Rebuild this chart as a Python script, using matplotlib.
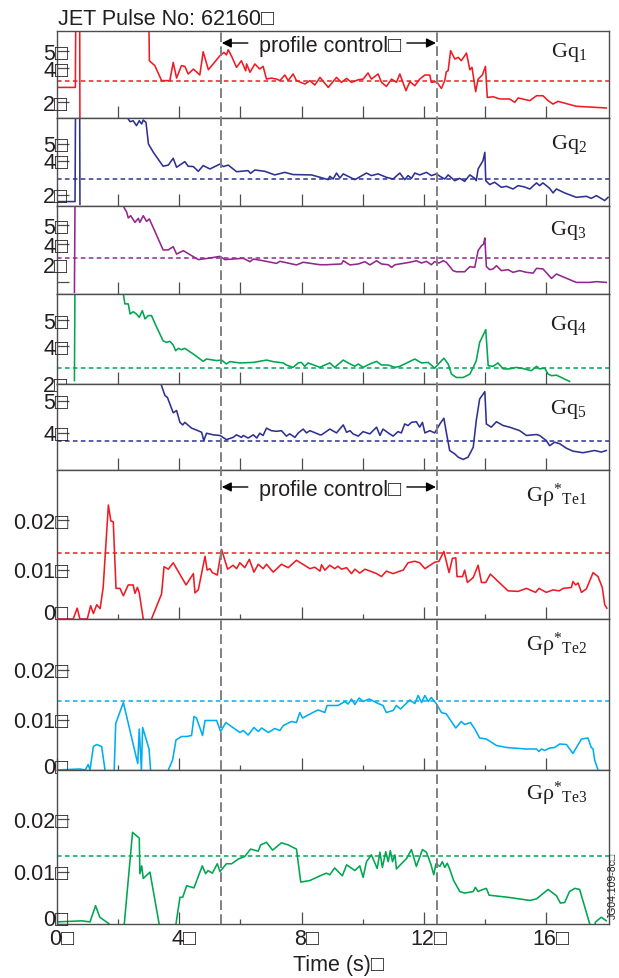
import numpy as np
import matplotlib
matplotlib.use('Agg')
import matplotlib.pyplot as plt
from matplotlib.lines import Line2D
from matplotlib.transforms import blended_transform_factory

plt.rcParams['font.family'] = ['Liberation Sans', 'DejaVu Sans']
plt.rcParams['mathtext.default'] = 'regular'

nan = np.nan
BOX = '\u25a1'

# (time [s], value) samples for each trace; nan pairs break the line
q1 = [(0.0, 2.86), (0.60, 2.86), (0.62, 9), (0.74, 9), (0.75, 0), (nan, nan),
      (2.99, 9), (3.02, 4.43), (3.20, 4.14), (3.42, 3.26), (3.69, 3.26), (3.80, 4.33),
      (3.91, 3.41), (4.07, 4.14), (4.18, 4.10), (4.29, 3.65), (4.46, 3.94), (4.67, 3.59),
      (4.78, 4.96), (4.95, 3.90), (5.33, 4.73), (5.46, 4.92), (5.54, 4.77), (5.60, 5.08),
      (5.71, 4.69), (5.87, 4.04), (6.03, 4.43), (6.17, 3.84), (6.20, 4.24), (6.31, 3.75),
      (6.47, 4.24), (6.63, 3.94), (6.74, 4.10), (6.85, 3.35), (7.01, 3.41), (7.18, 3.35),
      (7.29, 3.26), (7.45, 3.59), (7.56, 3.26), (7.72, 3.65), (7.83, 3.26), (8.11, 3.06),
      (8.27, 3.26), (8.43, 3.00), (8.60, 3.45), (8.87, 2.86), (9.14, 3.45), (9.30, 3.16),
      (9.47, 3.39), (9.63, 3.16), (9.85, 3.31), (10.01, 3.35), (10.17, 3.71), (10.28, 3.35),
      (10.50, 3.65), (10.61, 3.16), (10.77, 2.92), (10.94, 3.35), (11.10, 3.16), (11.21, 3.65),
      (11.41, 2.67), (11.54, 3.20), (11.70, 2.96), (11.86, 3.35), (12.03, 3.59), (12.19, 3.59),
      (12.24, 3.16), (12.41, 3.20), (12.57, 2.80), (12.68, 3.26), (12.73, 3.78), (12.79, 3.84),
      (12.87, 5.02), (13.01, 4.53), (13.12, 4.63), (13.22, 4.43), (13.39, 4.88), (13.50, 3.90),
      (13.57, 4.04), (13.69, 2.61), (13.77, 3.35), (13.91, 3.59), (14.01, 4.10), (14.07, 2.27),
      (14.26, 2.31), (14.48, 2.18), (14.80, 2.18), (14.97, 1.98), (15.08, 2.24), (15.46, 2.08),
      (15.68, 2.37), (15.89, 2.37), (16.06, 2.08), (16.22, 1.88), (16.38, 2.04), (16.98, 1.75),
      (17.96, 1.65)]

q2 = [(0.0, 1.61), (0.59, 1.61), (0.61, 9), (0.74, 9), (0.75, 1.45), (nan, nan),
      (2.30, 9), (2.33, 6.47), (2.39, 6.31), (2.49, 6.37), (2.60, 6.08), (2.69, 6.37),
      (2.77, 6.18), (2.82, 6.41), (2.91, 6.27), (2.99, 5.00), (3.15, 4.51), (3.47, 3.69),
      (3.64, 3.76), (3.80, 4.16), (3.91, 3.63), (4.18, 3.96), (4.29, 3.69), (4.46, 3.67),
      (4.62, 3.39), (4.78, 3.73), (5.00, 3.53), (5.33, 3.82), (5.44, 3.67), (5.60, 3.76),
      (5.87, 3.37), (6.25, 3.43), (6.33, 3.27), (6.47, 3.47), (6.80, 3.39), (7.12, 3.18),
      (7.45, 3.33), (7.72, 3.20), (8.32, 3.18), (8.60, 3.04), (8.87, 2.90), (8.92, 3.10),
      (9.03, 2.94), (9.14, 3.29), (9.25, 3.00), (9.36, 3.24), (9.74, 2.90), (10.12, 3.29),
      (10.28, 3.14), (10.50, 3.24), (10.77, 3.04), (10.99, 2.94), (11.21, 3.29), (11.37, 2.90),
      (11.48, 3.14), (11.59, 2.98), (11.70, 3.29), (11.86, 3.18), (12.08, 3.33), (12.24, 3.14),
      (12.41, 3.24), (12.52, 3.10), (12.68, 2.94), (12.79, 3.18), (13.01, 2.84), (13.17, 2.98),
      (13.33, 2.80), (13.50, 3.18), (13.66, 2.98), (13.71, 2.84), (13.77, 3.53), (13.93, 4.02),
      (13.99, 4.51), (14.02, 2.84), (14.15, 2.61), (14.31, 2.75), (14.53, 2.45), (14.70, 2.51),
      (14.91, 2.35), (15.08, 2.55), (15.29, 2.47), (15.46, 2.35), (15.68, 2.71), (15.78, 2.55),
      (15.89, 2.71), (16.11, 2.39), (16.22, 2.12), (16.33, 2.35), (16.60, 2.12), (16.98, 1.86),
      (17.31, 1.92), (17.47, 1.80), (17.64, 1.96), (17.91, 1.67), (18.02, 1.86)]

q3 = [(0.57, 1.46), (0.60, 9), (nan, nan),
      (2.16, 9), (2.19, 5.93), (2.28, 5.67), (2.33, 5.37), (2.41, 5.49), (2.55, 5.14),
      (2.66, 5.35), (2.71, 5.14), (2.82, 5.49), (2.93, 5.19), (3.02, 5.32), (3.47, 3.69),
      (3.64, 3.69), (3.80, 3.86), (3.91, 3.47), (4.13, 3.65), (4.40, 3.39), (4.62, 3.18),
      (4.95, 3.25), (5.33, 3.35), (5.49, 3.18), (5.76, 3.21), (6.09, 3.25), (6.31, 3.07),
      (6.42, 3.21), (6.74, 3.12), (7.18, 2.98), (7.29, 3.09), (7.83, 2.90), (8.05, 3.04),
      (8.60, 2.91), (8.81, 2.91), (9.30, 2.95), (9.36, 3.12), (9.58, 2.90), (9.85, 2.95),
      (10.07, 3.07), (10.23, 2.90), (10.45, 3.12), (10.61, 2.95), (10.83, 2.91), (10.94, 2.77),
      (11.05, 2.91), (11.54, 3.04), (11.75, 3.12), (11.92, 3.00), (12.08, 3.09), (12.24, 2.91),
      (12.35, 3.07), (12.49, 3.00), (12.63, 3.12), (12.73, 3.04), (12.95, 2.60), (13.06, 2.54),
      (13.33, 2.54), (13.50, 2.81), (13.66, 2.77), (13.77, 3.65), (13.88, 3.91), (13.95, 4.00),
      (13.99, 4.32), (14.04, 2.81), (14.15, 2.65), (14.26, 2.69), (14.37, 2.86), (14.53, 2.60),
      (14.75, 2.65), (14.91, 2.51), (15.13, 2.60), (15.35, 2.51), (15.57, 2.47), (15.68, 2.72),
      (15.89, 2.69), (16.17, 2.19), (16.33, 2.42), (16.98, 1.98), (17.42, 1.98), (17.64, 2.02),
      (17.96, 1.98)]

q4 = [(0.57, 2.67), (0.60, 9), (nan, nan),
      (2.15, 9), (2.17, 6.00), (2.22, 5.62), (2.33, 5.62), (2.39, 5.23), (2.49, 5.32),
      (2.60, 5.23), (2.69, 5.10), (2.79, 5.36), (2.88, 5.04), (2.98, 5.17), (3.09, 5.17),
      (3.26, 4.72), (3.47, 4.20), (3.58, 4.14), (3.69, 4.18), (3.80, 4.04), (3.88, 3.82),
      (3.97, 3.91), (4.07, 3.86), (4.18, 3.91), (4.46, 3.69), (4.78, 3.41), (4.89, 3.50),
      (5.22, 3.44), (5.38, 3.46), (5.54, 3.31), (5.65, 3.40), (5.98, 3.35), (6.42, 3.37),
      (6.85, 3.46), (7.07, 3.40), (7.40, 3.35), (7.50, 3.27), (7.72, 3.18), (7.89, 3.35),
      (7.99, 3.37), (8.10, 3.22), (8.21, 3.35), (8.60, 3.18), (8.70, 3.24), (8.92, 3.35),
      (9.08, 3.18), (9.36, 3.46), (9.52, 3.35), (9.74, 3.22), (9.85, 3.31), (10.01, 3.18),
      (10.23, 3.31), (10.45, 3.41), (10.61, 3.27), (10.83, 3.27), (11.05, 3.18), (11.21, 3.22),
      (11.70, 3.50), (11.92, 3.35), (12.14, 3.37), (12.35, 3.15), (12.52, 3.37), (12.65, 3.53),
      (12.79, 3.31), (12.90, 2.92), (13.06, 2.79), (13.28, 2.79), (13.50, 2.92), (13.61, 3.18),
      (13.71, 3.44), (13.82, 4.14), (14.02, 4.63), (14.10, 3.24), (14.26, 3.22), (14.42, 3.35),
      (14.59, 3.12), (14.80, 3.12), (15.02, 3.18), (15.29, 3.12), (15.51, 3.05), (15.68, 3.22),
      (15.78, 3.12), (15.95, 3.15), (16.06, 2.92), (16.17, 2.86), (16.33, 2.88), (16.76, 2.64)]

q5 = [(3.35, 7.0), (3.40, 5.53), (3.53, 5.17), (3.61, 5.11), (3.80, 4.63), (3.91, 4.70),
      (4.02, 4.33), (4.11, 4.25), (4.18, 4.33), (4.40, 4.15), (4.56, 4.09), (4.73, 4.02),
      (4.80, 3.76), (4.89, 3.99), (5.11, 3.94), (5.33, 3.92), (5.54, 3.79), (5.76, 3.86),
      (5.87, 3.94), (6.03, 3.86), (6.09, 3.92), (6.25, 3.84), (6.42, 3.94), (6.53, 3.84),
      (6.63, 3.99), (6.74, 3.92), (6.85, 4.15), (7.01, 4.07), (7.18, 4.05), (7.34, 4.07),
      (7.50, 3.90), (7.61, 3.97), (7.78, 3.86), (7.89, 4.00), (8.05, 4.12), (8.16, 4.00),
      (8.27, 4.07), (8.60, 3.94), (8.65, 3.94), (8.92, 4.12), (9.14, 4.00), (9.36, 4.25),
      (9.47, 4.02), (9.58, 4.07), (9.68, 3.97), (9.85, 3.90), (10.01, 4.04), (10.23, 3.97),
      (10.45, 4.18), (10.56, 3.92), (10.66, 4.12), (10.83, 4.00), (10.99, 3.90), (11.15, 4.04),
      (11.26, 4.00), (11.37, 4.28), (11.48, 4.23), (11.59, 4.33), (11.75, 4.35), (11.86, 4.18),
      (11.95, 4.33), (12.03, 4.00), (12.19, 4.07), (12.35, 4.00), (12.52, 4.28), (12.65, 4.46),
      (12.73, 4.02), (12.84, 3.45), (13.01, 3.34), (13.12, 3.24), (13.28, 3.17), (13.44, 3.24),
      (13.61, 3.55), (13.71, 4.39), (13.82, 5.06), (13.99, 5.29), (14.04, 4.28), (14.20, 4.18),
      (14.37, 4.35), (14.59, 4.23), (14.80, 4.18), (15.13, 4.07), (15.35, 3.92), (15.68, 3.95),
      (15.78, 3.92), (16.00, 3.76), (16.11, 3.60), (16.27, 3.71), (16.44, 3.66), (16.66, 3.52),
      (16.87, 3.43), (17.20, 3.38), (17.58, 3.45), (17.80, 3.40), (17.96, 3.45)]

rho1 = [(0.00, 0.0), (0.53, 0.0), (0.66, 0.0022), (0.75, 0.0), (0.99, 0.0), (1.10, 0.0027),
        (1.19, 0.0011), (1.30, 0.0029), (1.41, 0.0021), (1.51, 0.0064), (1.68, 0.0231),
        (1.76, 0.0199), (1.84, 0.0197), (1.93, 0.0062), (2.06, 0.0062), (2.17, 0.0047),
        (2.33, 0.0069), (2.49, 0.0069), (2.55, 0.0052), (2.63, 0.0064), (2.69, 0.0053),
        (2.82, 0.0), (2.95, -0.003), (3.09, 0.0), (3.42, 0.0051), (3.50, 0.0106),
        (3.64, 0.0101), (3.80, 0.0114), (4.22, 0.0069), (4.46, 0.0092), (4.51, 0.0053),
        (4.62, 0.0059), (4.84, 0.0127), (4.91, 0.0099), (5.00, 0.0102), (5.08, 0.0094),
        (5.24, 0.0089), (5.38, 0.0141), (5.58, 0.0101), (5.76, 0.0109), (5.87, 0.0102),
        (5.98, 0.0114), (6.14, 0.0104), (6.29, 0.0121), (6.44, 0.0095), (6.58, 0.0111),
        (6.74, 0.0102), (6.85, 0.0111), (7.07, 0.0095), (7.34, 0.0111), (7.56, 0.0104),
        (7.83, 0.0119), (8.27, 0.0102), (8.43, 0.0105), (8.60, 0.0097), (8.65, 0.0110),
        (8.76, 0.0099), (8.92, 0.0109), (9.08, 0.0102), (9.19, 0.0107), (9.30, 0.0101),
        (9.47, 0.0104), (9.63, 0.0092), (9.74, 0.0101), (9.90, 0.0093), (10.07, 0.0101),
        (10.45, 0.0092), (10.61, 0.0086), (10.77, 0.0097), (10.99, 0.0092), (11.21, 0.0097),
        (11.32, 0.0099), (11.48, 0.0114), (11.70, 0.0117), (11.86, 0.0114), (12.03, 0.0102),
        (12.35, 0.0115), (12.49, 0.0117), (12.65, 0.0137), (12.82, 0.0094), (12.93, 0.0123),
        (13.04, 0.0124), (13.08, 0.0086), (13.26, 0.0086), (13.33, 0.0099), (13.42, 0.0074),
        (13.61, 0.0084), (13.77, 0.0109), (13.88, 0.0074), (14.02, 0.0074), (14.17, 0.0091),
        (14.75, 0.0057), (15.08, 0.0056), (15.35, 0.0062), (15.65, 0.0054), (15.76, 0.0062),
        (16.00, 0.0054), (16.22, 0.0059), (16.42, 0.0057), (16.55, 0.0062), (16.82, 0.0064),
        (16.87, 0.0076), (16.96, 0.0069), (17.04, 0.0073), (17.15, 0.0054), (17.31, 0.0061),
        (17.53, 0.0094), (17.69, 0.0086), (17.83, 0.0064), (17.91, 0.0029), (17.98, 0.0022)]

rho2 = [(0.00, 0.0), (0.75, 0.0002), (0.92, 0.0), (1.02, 0.0011), (1.08, 0.0), (1.19, 0.0047),
        (1.30, 0.0051), (1.46, 0.0047), (1.57, 0.0), (1.72, -0.003), (1.87, 0.0),
        (1.92, 0.0093), (2.17, 0.0135), (2.64, 0.0013), (2.69, 0.0082), (2.76, 0.0),
        (2.80, 0.0085), (3.01, 0.0042), (3.06, 0.0), (3.35, -0.004), (3.64, 0.0),
        (3.78, 0.0020), (3.89, 0.0060), (4.07, 0.0067), (4.24, 0.0067), (4.40, 0.0069),
        (4.48, 0.0107), (4.56, 0.0104), (4.76, 0.0069), (4.84, 0.0099), (5.22, 0.0099),
        (5.35, 0.0077), (5.52, 0.0095), (5.98, 0.0075), (6.09, 0.0079), (6.25, 0.0070),
        (6.44, 0.0085), (6.58, 0.0077), (6.69, 0.0084), (6.91, 0.0075), (7.12, 0.0083),
        (7.29, 0.0079), (7.40, 0.0089), (7.67, 0.0097), (7.83, 0.0095), (7.94, 0.0115),
        (8.03, 0.0104), (8.43, 0.0117), (8.54, 0.0120), (8.76, 0.0115), (8.83, 0.0129),
        (9.19, 0.0129), (9.41, 0.0137), (9.52, 0.0132), (9.63, 0.0142), (9.74, 0.0131),
        (9.88, 0.0144), (10.01, 0.0137), (10.21, 0.0142), (10.50, 0.0133), (10.66, 0.0129),
        (10.77, 0.0115), (10.99, 0.0119), (11.10, 0.0129), (11.23, 0.0122), (11.54, 0.0140),
        (11.70, 0.0133), (11.81, 0.0149), (11.92, 0.0135), (12.03, 0.0149), (12.14, 0.0137),
        (12.24, 0.0145), (12.41, 0.0132), (12.57, 0.0115), (12.73, 0.0112), (13.04, 0.0084),
        (13.22, 0.0097), (13.33, 0.0091), (13.52, 0.0095), (13.66, 0.0082), (13.82, 0.0064),
        (14.04, 0.0062), (14.37, 0.0049), (14.70, 0.0045), (15.35, 0.0042), (15.68, 0.0042),
        (15.76, 0.0037), (15.84, 0.0042), (15.95, 0.0039), (16.11, 0.0044), (16.27, 0.0045),
        (16.44, 0.0052), (16.66, 0.0051), (16.87, 0.0033), (17.15, 0.0062), (17.36, 0.0064),
        (17.47, 0.0045), (17.53, 0.0042), (17.58, 0.0020), (17.69, 0.0), (17.75, -0.002)]

rho3 = [(0.00, 0.0004), (0.81, 0.0006), (1.08, 0.0004), (1.26, 0.0035), (1.40, 0.0013),
        (1.71, 0.0), (1.95, -0.004), (2.20, 0.0), (2.47, 0.0175), (2.69, 0.0164),
        (2.71, 0.0096), (2.77, 0.0111), (2.82, 0.0087), (3.04, 0.0099), (3.34, 0.0),
        (3.60, -0.004), (3.89, 0.0), (4.02, 0.0051), (4.11, 0.0051), (4.24, 0.0073),
        (4.48, 0.0069), (4.75, 0.0111), (4.86, 0.0096), (4.94, 0.0102), (5.08, 0.0097),
        (5.24, 0.0115), (5.33, 0.0100), (5.54, 0.0115), (5.71, 0.0115), (5.93, 0.0124),
        (6.14, 0.0129), (6.33, 0.0143), (6.58, 0.0139), (6.66, 0.0151), (6.85, 0.0156),
        (7.05, 0.0141), (7.34, 0.0155), (7.56, 0.0151), (7.83, 0.0143), (7.97, 0.0080),
        (8.27, 0.0083), (8.60, 0.0092), (8.81, 0.0097), (8.92, 0.0094), (9.08, 0.0107),
        (9.33, 0.0092), (9.47, 0.0113), (9.74, 0.0102), (9.90, 0.0111), (10.01, 0.0089),
        (10.12, 0.0119), (10.28, 0.0132), (10.47, 0.0106), (10.56, 0.0137), (10.64, 0.0108),
        (10.75, 0.0138), (10.83, 0.0119), (10.90, 0.0140), (10.97, 0.0119), (11.05, 0.0132),
        (11.10, 0.0105), (11.26, 0.0115), (11.43, 0.0125), (11.59, 0.0142), (11.75, 0.0110),
        (11.95, 0.0142), (12.08, 0.0137), (12.22, 0.0115), (12.32, 0.0094), (12.39, 0.0115),
        (12.52, 0.0110), (12.60, 0.0119), (12.68, 0.0108), (12.76, 0.0116), (12.84, 0.0105),
        (12.97, 0.0083), (13.17, 0.0062), (13.33, 0.0059), (13.61, 0.0062), (13.68, 0.0070),
        (13.77, 0.0062), (13.93, 0.0066), (14.04, 0.0068), (14.13, 0.0055), (14.75, 0.0051),
        (15.46, 0.0045), (15.68, 0.0048), (16.06, 0.0066), (16.33, 0.0054), (16.46, 0.0040),
        (16.60, 0.0041), (16.76, 0.0062), (16.93, 0.0068), (17.09, 0.0066), (17.42, 0.0),
        (17.52, -0.002), (17.61, 0.0004), (17.80, 0.0013), (17.96, 0.0006)]

# reference (target) levels drawn as dashed lines
ref_levels = [3.24, 2.94, 3.26, 3.15, 3.74, 0.0134, 0.0139, 0.0129]
y_limits = [(1.06, 6.18), (1.35, 6.53), (1.37, 6.0), (2.54, 6.0), (2.84, 5.53),
            (0, 0.0302), (0, 0.0302), (0, 0.0294)]
# (tick value, label, extra vertical shift of label in px)
q_ticks = [(5, '5', 0), (4, '4', 0), (2, '2', 0)]
y_ticks = [q_ticks,
           q_ticks,
           [(5, '5', 0), (4, '4', 0), (2, '2', 18)],
           [(5, '5', 0), (4, '4', 0), (2.54, '2', 0)],
           [(5, '5', 0), (4, '4', 0)],
           [(0.02, '0.02', 0), (0.01, '0.01', 0), (0, '0', 7)],
           [(0.02, '0.02', 0), (0.01, '0.01', 0), (0, '0', 4)],
           [(0.02, '0.02', 0), (0.01, '0.01', 0), (0, '0', 6)]]
names = ['Gq$_1$', 'Gq$_2$', 'Gq$_3$', 'Gq$_4$', 'Gq$_5$',
         'G\u03c1$^{*}{}_{Te1}$', 'G\u03c1$^{*}{}_{Te2}$', 'G\u03c1$^{*}{}_{Te3}$']
name_drop = [25, 30, 28, 35, 29, 31, 31, 29]
x_ticks = [0, 4, 8, 12, 16]
control_start, control_end = 5.36, 12.42

RED, NAVY, PURPLE, GREEN, CYAN = '#ed1c24', '#2e3192', '#92278f', '#00a651', '#00aeef'
colors = [RED, NAVY, PURPLE, GREEN, NAVY, RED, CYAN, GREEN]
series = [q1, q2, q3, q4, q5, rho1, rho2, rho3]

W, H = 619, 979
fig = plt.figure(figsize=(W / 100, H / 100), dpi=100)
edges = [32, 119, 207, 295, 385, 471, 620, 771, 925]
left_px, right_px = 57, 609
spine_c = '#4d4d4d'
txt_c = '#231f20'
FS = 15.5

axes = []
for i in range(8):
    top, bot = edges[i], edges[i + 1]
    ax = fig.add_axes([left_px / W, 1 - bot / H, (right_px - left_px) / W, (bot - top) / H])
    axes.append(ax)
    data = np.array(series[i], dtype=float)
    ax.plot(data[:, 0], data[:, 1], color=colors[i], lw=1.15)
    ax.axhline(ref_levels[i], color=colors[i], lw=1.1, dashes=(3, 2.2))
    ax.set_xlim(0, 18.05)
    ax.set_ylim(*y_limits[i])
    for s in ax.spines.values():
        s.set_color(spine_c)
        s.set_linewidth(1.0)

    if i < 5:
        ax.set_xticks(np.arange(2, 18, 2))
        ax.tick_params(axis='x', direction='in', length=8.6, width=0.9, color=spine_c,
                       labelbottom=False)
    else:
        ax.set_xticks(x_ticks)
        ax.set_xticks(np.arange(2, 18, 4), minor=True)
        ax.tick_params(axis='x', which='major', direction='in', length=8.6, width=0.9,
                       color=spine_c, labelbottom=False)
        ax.tick_params(axis='x', which='minor', direction='in', length=3.6, width=0.9,
                       color=spine_c)

    ticks = y_ticks[i]
    ax.set_yticks([t[0] for t in ticks])
    ax.tick_params(axis='y', direction='in', length=8.6, width=0.9, color=spine_c,
                   labelleft=False)
    for val, lab, dy in ticks:
        ax.annotate(lab + BOX, xy=(0, val), xycoords=ax.get_yaxis_transform(),
                    xytext=(11, -7.5 + dy), textcoords='offset pixels',
                    ha='right', va='baseline', fontsize=FS, color=txt_c,
                    annotation_clip=False)

    ax.annotate(names[i], xy=(0.96, 1), xycoords='axes fraction',
                xytext=(0, -name_drop[i]), textcoords='offset pixels',
                ha='right', va='baseline', fontsize=16,
                family=['Liberation Serif', 'DejaVu Serif'], color=txt_c)

# profile-control markers in the first q panel and the first rho panel
for ax, yf in [(axes[0], 0.862), (axes[5], 0.886)]:
    arrow = dict(arrowstyle='-|>', color='black', lw=1.0, shrinkA=0, shrinkB=0,
                 mutation_scale=14)
    ax.annotate('', xy=(5.39, yf), xycoords=('data', 'axes fraction'),
                xytext=(6.24, yf), arrowprops=arrow)
    ax.annotate('', xy=(12.39, yf), xycoords=('data', 'axes fraction'),
                xytext=(11.44, yf), arrowprops=arrow)
    ax.annotate('profile control' + BOX, xy=(6.6, yf), xycoords=('data', 'axes fraction'),
                xytext=(0, -8), textcoords='offset pixels', ha='left', va='baseline',
                fontsize=FS, color=txt_c)

bottom = axes[-1]
for xv in x_ticks:
    bottom.annotate(str(xv) + BOX, xy=(xv, 0), xycoords=bottom.get_xaxis_transform(),
                    xytext=(5, -20.5), textcoords='offset pixels', ha='center',
                    va='baseline', fontsize=FS, color=txt_c, annotation_clip=False)
bottom.annotate('Time (s)' + BOX, xy=(0.5, 0), xycoords='axes fraction',
                xytext=(5, -46.5), textcoords='offset pixels', ha='center',
                va='baseline', fontsize=FS, color=txt_c, annotation_clip=False)

# dashed markers for the control window across the whole stack
trans = blended_transform_factory(bottom.transData, fig.transFigure)
for xv in (control_start, control_end):
    fig.add_artist(Line2D([xv, xv], [1 - 925 / H, 1 - 32 / H], transform=trans,
                          color='#808080', lw=1.4, dashes=(5, 2.2)))

fig.text(58 / W, 1 - 25 / H, 'JET Pulse No: 62160' + BOX, fontsize=FS,
         ha='left', va='baseline', color=txt_c)
fig.text(613 / W, 1 - 886 / H, 'JG04.109-8c' + BOX, rotation=90, fontsize=7.5,
         ha='center', va='center', color=txt_c)

fig.savefig('out.png', dpi=100)
